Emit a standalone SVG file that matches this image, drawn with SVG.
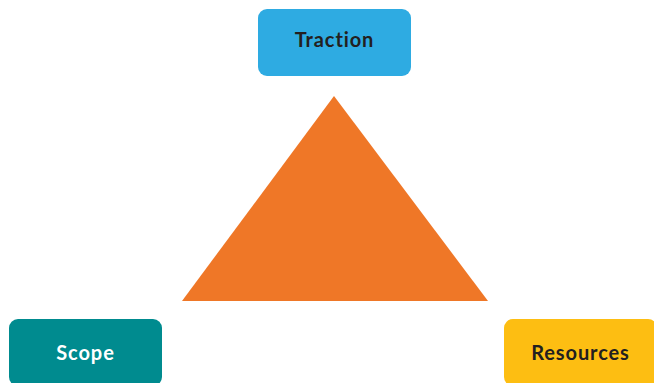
<svg xmlns="http://www.w3.org/2000/svg" width="654" height="383" viewBox="0 0 654 383">
<style>
.lbl{font-family:Lato,"Open Sans","Liberation Sans",sans-serif;font-weight:bold;font-size:20px;letter-spacing:0.9px;text-anchor:middle}
.dark{fill:#231f20}
.light{fill:#ffffff}
</style>
<rect width="654" height="383" fill="#ffffff"/>
<g id="connectors"></g>
<g id="triangle">
<polygon points="334,96 182,301 488,301" fill="#ef7727"/>
</g>
<g id="traction">
<rect x="258" y="9" width="153" height="67" rx="9" fill="#2eabe2"/>
<text class="lbl dark" x="334.5" y="46.5">Traction</text>
</g>
<g id="scope">
<rect x="9" y="319" width="153" height="67" rx="9" fill="#008b8f"/>
<text class="lbl light" x="85.5" y="359.5">Scope</text>
</g>
<g id="resources">
<rect x="504" y="319" width="153" height="67" rx="9" fill="#fdbe12"/>
<text class="lbl dark" x="580.5" y="359.5">Resources</text>
</g>
</svg>
